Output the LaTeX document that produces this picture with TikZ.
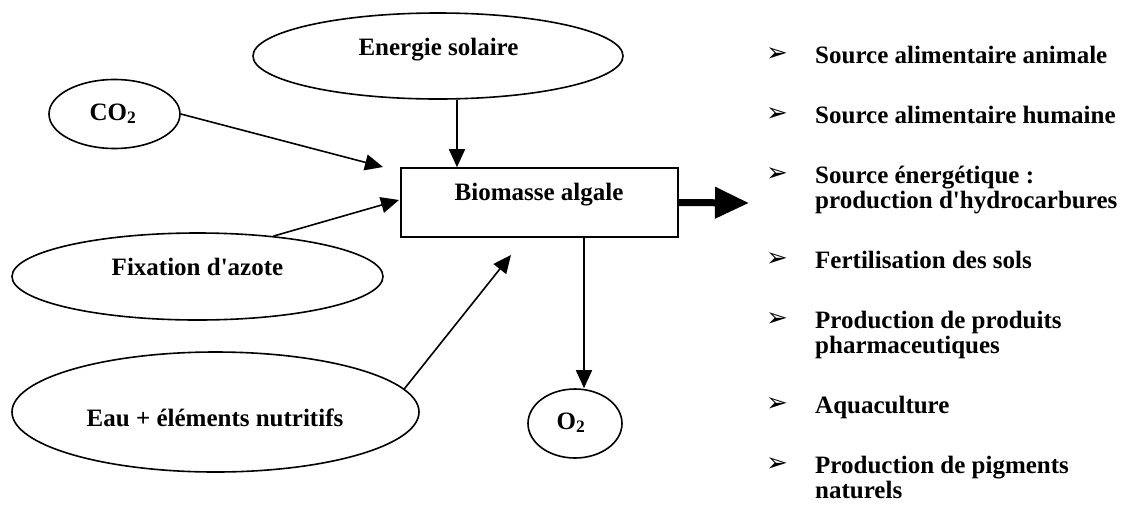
\documentclass[tikz,border=0pt]{standalone}
\usepackage{fontspec}
\setmainfont{Liberation Serif}
\newfontfamily\symfont{DejaVu Sans}
\usetikzlibrary{shapes.geometric,arrows.meta,calc}
\begin{document}
\begin{tikzpicture}[x=1pt,y=-1pt,
  every node/.style={font=\fontsize{25}{25.5}\selectfont\bfseries},
  oval/.style={draw,ellipse,line width=1.6pt,inner sep=0pt},
  rectbox/.style={draw,rectangle,line width=1.6pt,inner sep=0pt},
  arr/.style={line width=1.6pt,-{Triangle[length=18pt,width=16pt]}},
  bigarr/.style={line width=7pt,-{Triangle[length=34pt,width=30pt]}},
  lbl/.style={anchor=base,inner sep=0pt},
  itemtext/.style={anchor=base west,align=left,inner sep=0pt},
  bulletmark/.style={font=\symfont\fontsize{26}{26}\selectfont,inner sep=0pt}
]
\useasboundingbox (0,0) rectangle (1129,504);

% shapes
\node[oval,minimum width=370pt,minimum height=86pt] (en) at (438,56) {};
\node[oval,minimum width=131pt,minimum height=69pt] (co2) at (114.5,114) {};
\node[rectbox,minimum width=277pt,minimum height=69pt] (box) at (539.5,202.5) {};
\node[oval,minimum width=371pt,minimum height=87pt] (fix) at (197.5,276.5) {};
\node[oval,minimum width=407pt,minimum height=120pt] (eau) at (215.5,412) {};
\node[oval,minimum width=94pt,minimum height=69pt] (o2) at (575,423.5) {};

% labels
\node[lbl] (enT) at (438.5,55) {Energie solaire};
\node[lbl] (co2T) at (113,120) {CO\textsubscript{2}};
\node[lbl] (boxT) at (539,200) {Biomasse algale};
\node[lbl] (fixT) at (197.5,275) {Fixation d\textquotesingle azote};
\node[lbl] (eauT) at (215,426) {Eau + éléments nutritifs};
\node[lbl] (o2T) at (571,429) {O\textsubscript{2}};

% arrow ends
\coordinate (tco) at (383,167);
\coordinate (tfix) at (399,200);
\coordinate (teau) at (511,255);
\coordinate (tout) at (749,203);
\coordinate (ensrc) at ($(en.south)+(19,0)$);
\coordinate (o2src) at ($(box.south)+(44.5,0)$);

% connectors
\draw[arr] (co2.east) -- (tco);
\draw[arr] (fix.28.6) -- (tfix);
\draw[arr] (eau.7.4) -- (teau);
\draw[arr] (ensrc) -- (ensrc |- box.north);
\draw[arr] (o2src) -- (o2src |- o2.north);
\draw[bigarr] (box.east) -- (tout);

% list: first-line baseline / last-line baseline
\foreach \yy/\yl/\name/\txt in {
  63/63/i1/{Source alimentaire animale},
  123/123/i2/{Source alimentaire humaine},
  183/208.5/i3/{Source énergétique :\\production d\textquotesingle hydrocarbures},
  268/268/i4/{Fertilisation des sols},
  328/353.5/i5/{Production de produits\\pharmaceutiques},
  413/413/i6/{Aquaculture},
  473/498.5/i7/{Production de pigments\\naturels}}{
  \node[bulletmark] (b\name) at (777,\yy-8) {➢};
  \node[itemtext] (\name) at (815,\yl) {\txt};
}
\end{tikzpicture}
\end{document}
